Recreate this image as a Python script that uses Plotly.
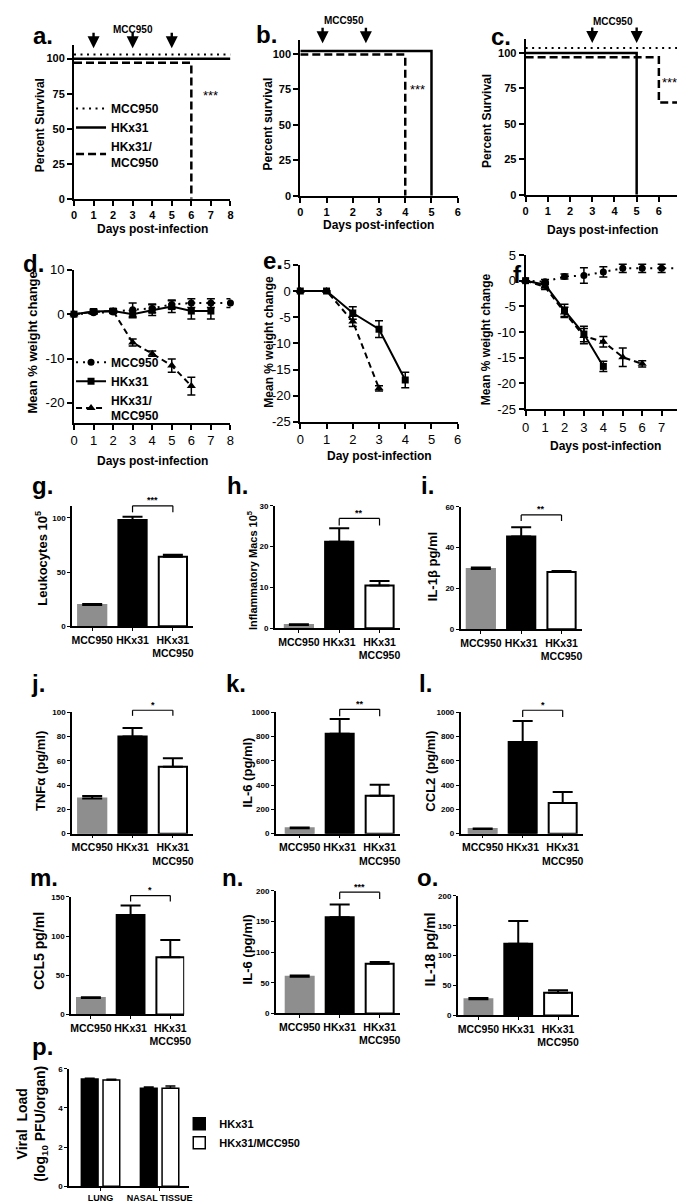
import plotly.graph_objects as go

W, H = 685, 1204
FONT = "Liberation Sans, Arial, Helvetica, sans-serif"

# ======================= DATA =======================
# a. survival (display offsets keep overlapping 100% lines visible)
a_mcc_day = [0, 8];    a_mcc_pct = [103, 103]
a_hk_day = [0, 8];     a_hk_pct = [100, 100]
a_combo_day = [0, 6];  a_combo_pct = [97, 0]
a_dose_days = [1, 3, 5]
# b. survival
b_hk_day = [0, 5];     b_hk_pct = [102, 0]
b_combo_day = [0, 4];  b_combo_pct = [99.5, 0]
b_dose_days = [0.85, 2.5]
# c. survival
c_mcc_day = [0, 7];       c_mcc_pct = [103.5, 103.5]
c_hk_day = [0, 5];        c_hk_pct = [100, 0]
c_combo_day = [0, 6, 7];  c_combo_pct = [97, 65, 0]
c_dose_days = [3, 5]
surv_ticks = [0, 25, 50, 75, 100]

# d. weight change
d_mcc_day = [0, 1, 2, 3, 4, 5, 6, 7, 8]
d_mcc_w = [0, 0.3, 0.5, 1.0, 1.3, 2.2, 2.5, 2.5, 2.5]
d_mcc_err = [0, 0.3, 0.3, 1.5, 1.0, 1.0, 1.0, 1.0, 1.0]
d_hk_day = [0, 1, 2, 3, 4, 5, 6, 7]
d_hk_w = [0, 0.6, 0.7, 0.0, 0.9, 1.7, 0.7, 0.7]
d_hk_err = [0, 0.5, 0.5, 0.8, 1.2, 1.3, 1.8, 1.8]
d_combo_day = [0, 1, 2, 3, 4, 5, 6]
d_combo_w = [0, 0.5, 0.7, -6.4, -8.9, -11.6, -16.2]
d_combo_err = [0, 0.3, 0.3, 0.8, 0.6, 1.5, 2.0]
d_ticks = [-20, -10, 0, 10]
# e. weight change
e_hk_day = [0, 1, 2, 3, 4]
e_hk_w = [0, 0, -4.2, -7.3, -17.0]
e_hk_err = [0, 0, 1.2, 1.6, 1.5]
e_combo_day = [0, 1, 2, 3]
e_combo_w = [0, 0, -5.8, -18.6]
e_combo_err = [0, 0, 1.0, 0.5]
# f. weight change
f_mcc_day = [0, 1, 2, 3, 4, 5, 6, 7, 8]
f_mcc_w = [0, -0.2, 0.8, 1.0, 1.7, 2.4, 2.4, 2.4, 2.4]
f_mcc_err = [0, 0.4, 0.5, 1.5, 1.0, 0.8, 0.8, 0.8, 1.0]
f_hk_day = [0, 1, 2, 3, 4]
f_hk_w = [0, -0.8, -5.8, -10.4, -16.7]
f_hk_err = [0, 0.5, 1.2, 1.5, 1.0]
f_combo_day = [0, 1, 2, 3, 4, 5, 6]
f_combo_w = [0, -1.2, -6.2, -10.8, -11.9, -14.9, -16.2]
f_combo_err = [0, 0.5, 1.0, 1.5, 1.0, 1.8, 0.6]
ef_ticks = [-25, -20, -15, -10, -5, 0, 5]

# g-o. bar charts
bar_groups = ["MCC950", "HKx31", "HKx31<br>MCC950"]
bar_colors = ["#8e8e8e", "#000000", "#ffffff"]
g_vals = [19.5, 98, 64];    g_err = [1, 3, 2]
h_vals = [0.8, 21.2, 10.5]; h_err = [0.2, 3.3, 1.1]
i_vals = [29.5, 45.5, 28];  i_err = [0.8, 4.5, 0.5]
j_vals = [29, 80, 55];      j_err = [2, 7, 7]
k_vals = [45, 822, 312];    k_err = [5, 122, 90]
l_vals = [38, 755, 252];    l_err = [5, 172, 92]
m_vals = [21, 127, 73];     m_err = [1, 12, 22]
n_vals = [60, 157, 81];     n_err = [2, 21, 3]
o_vals = [27, 120, 38];     o_err = [2, 38, 4]
g_ticks = [0, 50, 100]; h_ticks = [0, 10, 20, 30]; i_ticks = [0, 20, 40, 60]
j_ticks = [0, 20, 40, 60, 80, 100]; k_ticks = [0, 200, 400, 600, 800, 1000]
m_ticks = [0, 50, 100, 150]; n_ticks = [0, 50, 100, 150, 200]
# significance brackets: label, bracket top, leg bottom
sig = {
    "g": ("***", 111, 105), "h": ("**", 26.9, 25.2), "i": ("**", 56, 53),
    "j": ("*", 101.6, 97), "k": ("**", 1024, 967), "l": ("*", 1016, 960),
    "m": ("*", 151.7, 144), "n": ("***", 198, 187),
}

# p. viral load
p_sites = ["LUNG", "NASAL TISSUE"]
p_hk = [5.47, 5.0];     p_hk_err = [0.04, 0.07]
p_combo = [5.42, 5.0];  p_combo_err = [0.04, 0.12]
p_ticks = [0, 2, 4, 6]

# ======================= LAYOUT GEOMETRY (pixels) =======================
geom = {
    "a": dict(x=(63, 222), xr=[0, 8], y=(30, 186), yr=[0, 110]),
    "b": dict(x=(293, 453), xr=[0, 6], y=(25, 183), yr=[0, 110]),
    "c": dict(x=(522, 680), xr=[0, 7], y=(24, 182), yr=[0, 110]),
    "d": dict(x=(63, 222), xr=[0, 8], y=(258, 413), yr=[-24.5, 10]),
    "e": dict(x=(293, 453), xr=[0, 6], y=(253, 412), yr=[-25, 5]),
    "f": dict(x=(522, 680), xr=[0, 8], y=(243, 399), yr=[-25, 5]),
    "g": dict(x=(61, 184), xr=[-0.5, 2.5], y=(497, 619), yr=[0, 111]),
    "h": dict(x=(267, 394), xr=[-0.6, 2.5], y=(497, 621), yr=[0, 30]),
    "i": dict(x=(456, 579), xr=[-0.5, 2.5], y=(498, 622), yr=[0, 60]),
    "j": dict(x=(61, 184), xr=[-0.5, 2.5], y=(706, 829), yr=[0, 100]),
    "k": dict(x=(268, 394), xr=[-0.6, 2.5], y=(706, 829), yr=[0, 1000]),
    "l": dict(x=(456, 580), xr=[-0.55, 2.5], y=(706, 829), yr=[0, 1000]),
    "m": dict(x=(60, 175), xr=[-0.5, 2.35], y=(893, 1012), yr=[0, 150]),
    "n": dict(x=(268, 394), xr=[-0.6, 2.5], y=(887, 1011), yr=[0, 200]),
    "o": dict(x=(453, 576), xr=[-0.52, 2.52], y=(892, 1013), yr=[0, 200]),
    "p": dict(x=(58, 180), xr=[-0.533, 1.5], y=(1067, 1186), yr=[0, 6]),
}
order = list("abcdefghijklmnop")
ids = {k: ("" if n == 0 else str(n + 1)) for n, k in enumerate(order)}

fig = go.Figure()
layout = {}
annotations = []
shapes = []

def px(x):
    return x / W

def py(y):
    return 1 - y / H

def set_axes(k, xkw, ykw):
    g = geom[k]
    n = ids[k]
    base = dict(showline=True, linecolor="black", showgrid=False, zeroline=False,
                ticks="outside", tickcolor="black", fixedrange=True)
    layout["xaxis" + n] = dict(base, domain=[px(g["x"][0]), px(g["x"][1])], range=g["xr"],
                               anchor="y" + n, **xkw)
    layout["yaxis" + n] = dict(base, domain=[py(g["y"][1]), py(g["y"][0])], range=g["yr"],
                               anchor="x" + n, **ykw)

def xa(k):
    return "x" + ids[k]

def ya(k):
    return "y" + ids[k]

def ydom(k, v):
    lo, hi = geom[k]["yr"]
    return (v - lo) / (hi - lo)

def label(text, cx, cy, size=24):
    annotations.append(dict(text=text, x=px(cx), y=py(cy), xref="paper", yref="paper",
                            showarrow=False, xanchor="center", yanchor="middle",
                            font=dict(family=FONT, size=size, color="black", weight="bold")))

def ytitle(text, cx, cy, size=13):
    annotations.append(dict(text=text, x=px(cx), y=py(cy), xref="paper", yref="paper",
                            showarrow=False, textangle=-90, xanchor="center", yanchor="middle",
                            font=dict(family=FONT, size=size, color="black", weight="bold")))

def xtitle(text, cx, cy, size=12):
    annotations.append(dict(text=text, x=px(cx), y=py(cy), xref="paper", yref="paper",
                            showarrow=False, xanchor="center", yanchor="middle",
                            font=dict(family=FONT, size=size, color="black", weight="bold")))

def line_seg(k, x0, y0, x1, y1, width=1.2):
    shapes.append(dict(type="line", xref=xa(k), yref=ya(k) + " domain",
                       x0=x0, y0=ydom(k, y0), x1=x1, y1=ydom(k, y1),
                       line=dict(color="black", width=width)))

def dose_arrow(k, day, tip_val, length_px=17):
    annotations.append(dict(x=day, y=ydom(k, tip_val), xref=xa(k), yref=ya(k) + " domain",
                            ax=0, ay=-length_px, text="", showarrow=True, arrowhead=2,
                            arrowsize=1.0, arrowwidth=2.4, arrowcolor="black",
                            standoff=0, startstandoff=0))

def data_text(k, text, x, y, size=13, weight="normal"):
    annotations.append(dict(text=text, x=x, y=ydom(k, y), xref=xa(k), yref=ya(k) + " domain",
                            showarrow=False, xanchor="center", yanchor="middle",
                            font=dict(family=FONT, size=size, color="black", weight=weight)))

DOT = "2px,4.5px"
DASH = "8px,4px"

# ---------------- survival panels a, b, c ----------------
surv_tick = dict(family=FONT, size=11, color="black", weight="bold")
for k in "abc":
    set_axes(k,
             dict(tickvals=list(range(geom[k]["xr"][1] + 1)), linewidth=2, tickwidth=2, ticklen=5,
                  tickfont=surv_tick),
             dict(tickvals=surv_ticks, linewidth=2, tickwidth=2, ticklen=5, tickfont=surv_tick))

def surv_trace(k, xs, ys, dash, name=None, width=2.5):
    fig.add_trace(go.Scatter(x=xs, y=ys, mode="lines", line=dict(color="black", width=width,
                             dash=dash, shape="hv"), xaxis=xa(k), yaxis=ya(k),
                             name=name, showlegend=name is not None,
                             legend="legend", hoverinfo="skip"))

surv_trace("a", a_mcc_day, a_mcc_pct, DOT, "MCC950", width=2)
surv_trace("a", a_hk_day, a_hk_pct, "solid", "HKx31")
surv_trace("a", a_combo_day, a_combo_pct, DASH, "HKx31/<br>MCC950")
surv_trace("b", b_hk_day, b_hk_pct, "solid")
surv_trace("b", b_combo_day, b_combo_pct, DASH)
surv_trace("c", c_mcc_day, c_mcc_pct, DOT, width=2)
surv_trace("c", c_hk_day, c_hk_pct, "solid")
surv_trace("c", c_combo_day, c_combo_pct, DASH)

for d in a_dose_days:
    dose_arrow("a", d, 107.5)
for d in b_dose_days:
    dose_arrow("b", d, 107.5)
for d in c_dose_days:
    dose_arrow("c", d, 107)
data_text("a", "MCC950", 3, 121, size=10, weight="bold")
data_text("b", "MCC950", 1.65, 123.5, size=10, weight="bold")
data_text("c", "MCC950", 3.95, 122, size=10, weight="bold")
data_text("a", "***", 7.0, 74, size=13)
data_text("b", "***", 4.45, 75, size=13)
data_text("c", "***", 6.5, 79, size=13)

label("a.", 31, 21); label("b.", 259, 20); label("c.", 497, 22)
ytitle("Percent Survival", 28, 112, size=12)
ytitle("Percent survival", 260, 110, size=12)
ytitle("Percent Survival", 482, 107, size=12)
xtitle("Days post-infection", 143, 217)
xtitle("Days post-infection", 372, 213)
xtitle("Days post-infection", 600, 218)

# ---------------- weight panels d, e, f ----------------
wt_tick = dict(family=FONT, size=13, color="black")
set_axes("d", dict(tickvals=list(range(9)), linewidth=2, tickwidth=2, ticklen=5, tickfont=wt_tick),
         dict(tickvals=d_ticks, ticktext=[str(v) for v in d_ticks], linewidth=2, tickwidth=2,
              ticklen=5, tickfont=wt_tick))
set_axes("e", dict(tickvals=list(range(7)), linewidth=2, tickwidth=2, ticklen=5, tickfont=wt_tick),
         dict(tickvals=ef_ticks, ticktext=[str(v) for v in ef_ticks], linewidth=2, tickwidth=2,
              ticklen=5, tickfont=wt_tick))
set_axes("f", dict(tickvals=list(range(9)), linewidth=2, tickwidth=2, ticklen=5, tickfont=wt_tick),
         dict(tickvals=ef_ticks, ticktext=[str(v) for v in ef_ticks], linewidth=2, tickwidth=2,
              ticklen=5, tickfont=wt_tick))

def wt_trace(k, xs, ys, err, symbol, dash, name=None, size=7):
    fig.add_trace(go.Scatter(x=xs, y=ys, mode="lines+markers",
                             line=dict(color="black", width=2, dash=dash),
                             marker=dict(symbol=symbol, size=size, color="black"),
                             error_y=dict(type="data", array=err, visible=True, color="black",
                                          thickness=1.5, width=4),
                             xaxis=xa(k), yaxis=ya(k), name=name,
                             showlegend=name is not None, legend="legend2", hoverinfo="skip",
                             cliponaxis=False))

WDOT = "2px,5px"
WDASH = "6px,4px"
wt_trace("d", d_mcc_day, d_mcc_w, d_mcc_err, "circle", WDOT, "MCC950")
wt_trace("d", d_hk_day, d_hk_w, d_hk_err, "square", "solid", "HKx31")
wt_trace("d", d_combo_day, d_combo_w, d_combo_err, "triangle-up", WDASH, "HKx31/<br>MCC950", size=8)
wt_trace("e", e_hk_day, e_hk_w, e_hk_err, "square", "solid")
wt_trace("e", e_combo_day, e_combo_w, e_combo_err, "triangle-up", WDASH, size=8)
wt_trace("f", f_mcc_day, f_mcc_w, f_mcc_err, "circle", WDOT)
wt_trace("f", f_hk_day, f_hk_w, f_hk_err, "square", "solid")
wt_trace("f", f_combo_day, f_combo_w, f_combo_err, "triangle-up", WDASH, size=8)

label("d.", 22, 252); label("e.", 265, 249); label("f.", 517, 263)
ytitle("Mean % weight change", 21, 332, size=13)
ytitle("Mean % weight change", 261, 331, size=12)
ytitle("Mean % weight change", 482, 328, size=12)
xtitle("Days post-infection", 143, 452)
xtitle("Day post-infection", 373, 447)
xtitle("Days post-infection", 603, 436)

# ---------------- bar panels g - o ----------------
bar_ytick = dict(family=FONT, size=8, color="black", weight="bold")
bar_xtick = dict(family=FONT, size=10.5, color="black", weight="bold")
bar_sets = {
    "g": (g_vals, g_err, g_ticks), "h": (h_vals, h_err, h_ticks), "i": (i_vals, i_err, i_ticks),
    "j": (j_vals, j_err, j_ticks), "k": (k_vals, k_err, k_ticks), "l": (l_vals, l_err, k_ticks),
    "m": (m_vals, m_err, m_ticks), "n": (n_vals, n_err, n_ticks), "o": (o_vals, o_err, n_ticks),
}
for k, (vals, err, ticks) in bar_sets.items():
    set_axes(k,
             dict(tickvals=[0, 1, 2], ticktext=bar_groups, linewidth=1.5, tickwidth=1.2, ticklen=3,
                  tickangle=0, tickfont=bar_xtick),
             dict(tickvals=ticks, linewidth=1.5, tickwidth=1.2, ticklen=3, tickfont=bar_ytick))
    fig.add_trace(go.Bar(x=[0, 1, 2], y=vals, width=0.7,
                         marker=dict(color=bar_colors,
                                     line=dict(color=["#8e8e8e", "black", "black"], width=2)),
                         error_y=dict(type="data", symmetric=False, array=err,
                                      arrayminus=[0, 0, 0], color="black", thickness=2, width=10),
                         xaxis=xa(k), yaxis=ya(k), showlegend=False, hoverinfo="skip"))
    if k in sig:
        txt, top, leg = sig[k]
        rng = geom[k]["yr"][1]
        line_seg(k, 1, leg, 1, top)
        line_seg(k, 1, top, 2, top)
        line_seg(k, 2, top, 2, leg)
        data_text(k, txt, 1.5, top + rng * 0.045, size=9, weight="bold")

label("g.", 31, 476); label("h.", 229, 476); label("i.", 422, 476)
label("j.", 26, 677); label("k.", 228, 677); label("l.", 420, 677)
label("m.", 33, 873); label("n.", 224, 873); label("o.", 422, 873)
ytitle("Leukocytes 10<sup>5</sup>", 30, 550, size=13)
ytitle("Inflammatory Macs 10<sup>5</sup>", 244, 562, size=11)
ytitle("IL-1\u03b2 pg/ml", 427, 559, size=13)
ytitle("TNF\u03b1 (pg/ml)", 29, 766, size=13)
ytitle("IL-6 (pg/ml)", 239, 767, size=13)
ytitle("CCL2 (pg/ml)", 425, 766, size=13)
ytitle("CCL5 pg/ml", 28, 948, size=14)
ytitle("IL-6 (pg/ml)", 239, 946, size=13)
ytitle("IL-18 pg/ml", 425, 946, size=14)

# ---------------- viral load panel p ----------------
set_axes("p",
         dict(tickvals=[0, 1], ticktext=p_sites, linewidth=1.5, tickwidth=1.2, ticklen=3,
              tickangle=0, ticklabelstandoff=-1,
              tickfont=dict(family=FONT, size=9, color="black", weight="bold")),
         dict(tickvals=p_ticks, linewidth=1.5, tickwidth=1.2, ticklen=3, tickfont=bar_ytick))
fig.add_trace(go.Bar(x=[0, 1], y=p_hk, width=0.283, offset=-0.325, name="HKx31",
                     marker=dict(color="black", line=dict(color="black", width=1.5)),
                     error_y=dict(type="data", symmetric=False, array=p_hk_err, arrayminus=[0, 0],
                                  color="black", thickness=1.5, width=5),
                     xaxis=xa("p"), yaxis=ya("p"), legend="legend3", hoverinfo="skip"))
fig.add_trace(go.Bar(x=[0, 1], y=p_combo, width=0.283, offset=0.042, name="HKx31/MCC950",
                     marker=dict(color="white", line=dict(color="black", width=1.5)),
                     error_y=dict(type="data", symmetric=False, array=p_combo_err,
                                  arrayminus=[0, 0], color="black", thickness=1.5, width=5),
                     xaxis=xa("p"), yaxis=ya("p"), legend="legend3", hoverinfo="skip"))
label("p.", 31, 1045)
ytitle("Viral  Load<br>(log<sub>10</sub> PFU/organ)", 20, 1123, size=14)

leg_font = dict(family=FONT, size=12, color="black", weight="bold")
layout.update(
    width=W, height=H, margin=dict(l=0, r=0, t=0, b=0),
    paper_bgcolor="white", plot_bgcolor="rgba(0,0,0,0)",
    barmode="overlay", annotations=annotations, shapes=shapes,
    legend=dict(x=px(60), y=py(80), xanchor="left", yanchor="top", font=leg_font,
                bgcolor="rgba(0,0,0,0)", itemwidth=30, tracegroupgap=0),
    legend2=dict(x=px(60), y=py(337), xanchor="left", yanchor="top", font=leg_font,
                 bgcolor="rgba(0,0,0,0)", itemwidth=30, tracegroupgap=0),
    legend3=dict(x=px(170), y=py(1108), xanchor="left", yanchor="top",
                 font=dict(family=FONT, size=11, color="black", weight="bold"),
                 bgcolor="rgba(0,0,0,0)", itemwidth=30, tracegroupgap=0),
    showlegend=True,
)
fig.update_layout(**layout)
fig.write_html("out.html")
